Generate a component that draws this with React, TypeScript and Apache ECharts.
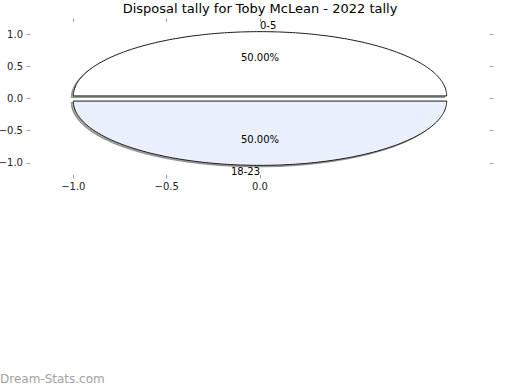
import React, { useEffect, useRef } from "react";
import * as echarts from "echarts";

const TITLE = "Disposal tally for Toby McLean - 2022 tally";
const WATERMARK = "Dream-Stats.com";
const categories = ["0-5", "18-23"];
const values = [1, 1];
const sliceColors = ["#ffffff", "#eaf0fb"];
const explode = [0.04, 0.04];
const xTicks = [-1.0, -0.5, 0.0];
const yTicks = [-1.0, -0.5, 0.0, 0.5, 1.0];
const xLim = [-1.232, 1.232];
const yLim = [-1.19, 1.19];

const FONT = "DejaVu Sans";
const total = values.reduce((a, b) => a + b, 0);
const starts: number[] = [];
{
  let acc = 0;
  for (const v of values) {
    starts.push(acc);
    acc += v;
  }
}

const fmt = (v: number) => v.toFixed(1).replace("-", "\u2212");

function wedgePoints(api: any, i: number, v: number, dx: number, dy: number) {
  const t1 = (360 * starts[i]) / total;
  const t2 = t1 + (360 * v) / total;
  const mid = (((t1 + t2) / 2) * Math.PI) / 180;
  const ex = explode[i];
  const cx = ex * Math.cos(mid);
  const cy = ex * Math.sin(mid);
  const pts: number[][] = [];
  const c = api.coord([cx, cy]);
  pts.push([c[0] + dx, c[1] + dy]);
  const n = 180;
  for (let k = 0; k <= n; k++) {
    const a = ((t1 + ((t2 - t1) * k) / n) * Math.PI) / 180;
    const p = api.coord([cx + Math.cos(a), cy + Math.sin(a)]);
    pts.push([p[0] + dx, p[1] + dy]);
  }
  return { pts, mid, cx, cy };
}

export default function App() {
  const ref = useRef<HTMLDivElement>(null);
  useEffect(() => {
    if (!ref.current) return;
    const chart = echarts.init(ref.current, undefined, { renderer: "svg" });
    const data = values.map((v, i) => [i, v]);
    const tickStyle = { color: "#a0a0a0", width: 1 };
    const hiddenLine = { show: false, onZero: false };
    chart.setOption({
      animation: false,
      backgroundColor: "#ffffff",
      textStyle: { fontFamily: FONT },
      title: {
        text: TITLE,
        left: "center",
        top: 2,
        padding: 0,
        textStyle: { fontFamily: FONT, fontSize: 13, fontWeight: "normal", color: "#000" },
      },
      graphic: [
        {
          type: "text",
          left: 0,
          top: 373,
          style: { text: WATERMARK, fontFamily: FONT, fontSize: 12, fill: "#a3a3a3", fontWeight: "normal" },
        },
      ],
      grid: { left: 30, right: 30, top: 22, height: 153, containLabel: false, outerBoundsMode: "none" },
      xAxis: [
        {
          type: "value",
          min: xLim[0],
          max: xLim[1],
          position: "bottom",
          axisLine: hiddenLine,
          splitLine: { show: false },
          axisTick: { show: true, customValues: xTicks, length: 3.5, lineStyle: tickStyle },
          axisLabel: {
            customValues: xTicks,
            formatter: (v: number) => fmt(v),
            fontSize: 10,
            color: "#222",
            margin: 6,
            fontFamily: FONT,
          },
        },
        {
          type: "value",
          min: xLim[0],
          max: xLim[1],
          position: "top",
          axisLine: hiddenLine,
          splitLine: { show: false },
          axisTick: { show: true, customValues: xTicks, length: 3.5, lineStyle: tickStyle },
          axisLabel: { show: false, customValues: xTicks },
        },
      ],
      yAxis: [
        {
          type: "value",
          min: yLim[0],
          max: yLim[1],
          position: "left",
          axisLine: hiddenLine,
          splitLine: { show: false },
          axisTick: { show: true, customValues: yTicks, length: 3.5, lineStyle: tickStyle },
          axisLabel: {
            customValues: yTicks,
            formatter: (v: number) => fmt(v),
            fontSize: 10,
            color: "#222",
            margin: 7,
            fontFamily: FONT,
          },
        },
        {
          type: "value",
          min: yLim[0],
          max: yLim[1],
          position: "right",
          axisLine: hiddenLine,
          splitLine: { show: false },
          axisTick: { show: true, customValues: yTicks, length: 3.5, lineStyle: tickStyle },
          axisLabel: { show: false, customValues: yTicks },
        },
      ],
      series: [
        {
          type: "custom",
          name: "shadow",
          coordinateSystem: "cartesian2d",
          xAxisIndex: 0,
          yAxisIndex: 0,
          clip: false,
          silent: true,
          z: 1,
          data,
          renderItem: (params: any, api: any) => {
            const i = params.dataIndex;
            const v = api.value(1);
            const { pts } = wedgePoints(api, i, v, -2, 1.5);
            return {
              type: "polygon",
              shape: { points: pts },
              style: { fill: "rgba(77,77,77,0.5)", stroke: "rgba(77,77,77,0.5)", lineWidth: 1 },
            };
          },
        },
        {
          type: "custom",
          name: "wedges",
          coordinateSystem: "cartesian2d",
          xAxisIndex: 0,
          yAxisIndex: 0,
          clip: false,
          silent: true,
          z: 2,
          data,
          renderItem: (params: any, api: any) => {
            const i = params.dataIndex;
            const v = api.value(1);
            const { pts, mid, cx, cy } = wedgePoints(api, i, v, 0, 0);
            const lp = api.coord([cx + 1.1 * Math.cos(mid), cy + 1.1 * Math.sin(mid)]);
            const pp = api.coord([cx + 0.6 * Math.cos(mid), cy + 0.6 * Math.sin(mid)]);
            const pct = ((100 * v) / total).toFixed(2) + "%";
            return {
              type: "group",
              children: [
                {
                  type: "polygon",
                  shape: { points: pts },
                  style: { fill: sliceColors[i], stroke: "#1a1a1a", lineWidth: 1 },
                },
                {
                  type: "text",
                  x: lp[0],
                  y: lp[1],
                  style: {
                    text: categories[i],
                    fontFamily: FONT,
                    fontSize: 10,
                    fill: "#000",
                    align: Math.cos(mid) > 0 ? "left" : "right",
                    verticalAlign: "middle",
                  },
                },
                {
                  type: "text",
                  x: pp[0],
                  y: pp[1],
                  style: {
                    text: pct,
                    fontFamily: FONT,
                    fontSize: 10,
                    fill: "#000",
                    align: "center",
                    verticalAlign: "middle",
                  },
                },
              ],
            };
          },
        },
      ],
    });
    return () => chart.dispose();
  }, []);
  return (
    <div
      ref={ref}
      style={{ position: "fixed", left: 0, top: 0, width: 520, height: 390, background: "#fff" }}
    />
  );
}
